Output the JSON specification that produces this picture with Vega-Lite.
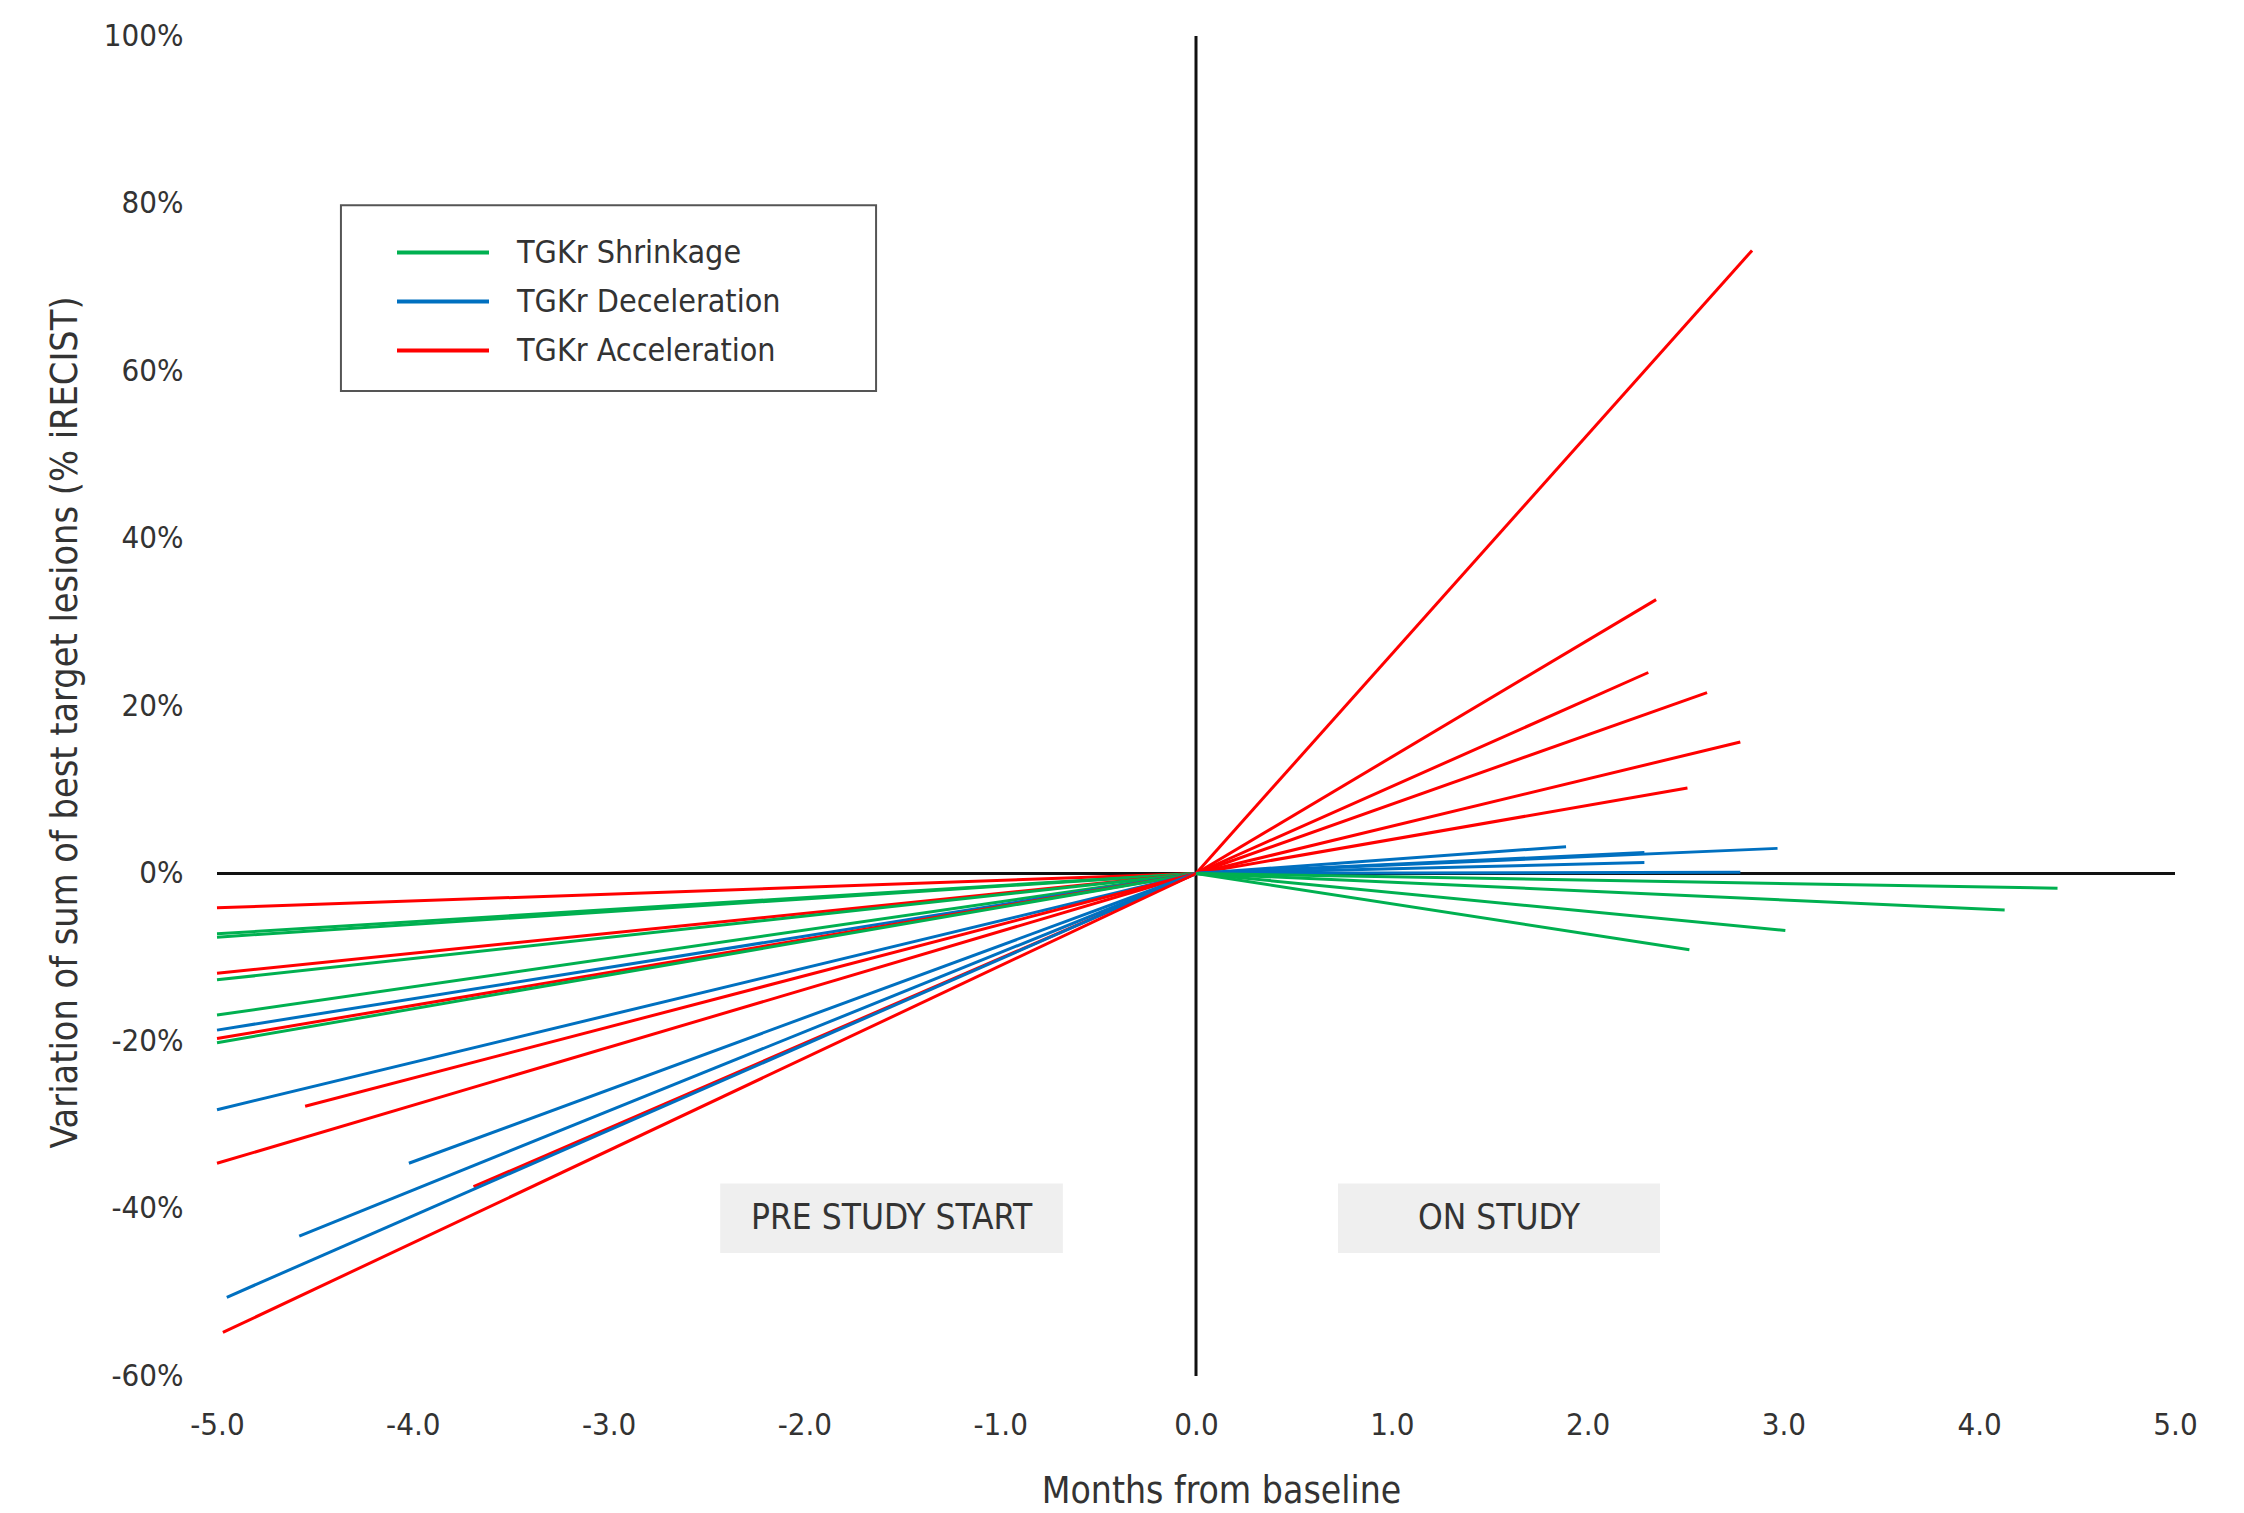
{
  "$schema": "https://vega.github.io/schema/vega-lite/v6.json",
  "width": 1958,
  "height": 1340,
  "autosize": {"type": "none"},
  "padding": {"left": 217, "top": 36, "right": 69, "bottom": 137},
  "background": "white",
  "config": {
    "view": {"stroke": null},
    "font": "'DejaVu Sans Condensed', Roboto, sans-serif",
    "axis": {"domain": false, "ticks": false, "tickSize": 0, "grid": false, "labelColor": "#333", "titleColor": "#333", "labelFont": "'DejaVu Sans Condensed', Roboto, sans-serif", "titleFont": "'DejaVu Sans Condensed', Roboto, sans-serif", "titleFontWeight": "normal"},
    "legend": {"labelFont": "'DejaVu Sans Condensed', Roboto, sans-serif"}
  },
  "datasets": {
    "lines": [
      {"id": "L1", "group": "TGKr Acceleration", "x": 0, "y": 0}, {"id": "L1", "group": "TGKr Acceleration", "x": -5, "y": -4.1},
      {"id": "L2", "group": "TGKr Shrinkage", "x": 0, "y": 0}, {"id": "L2", "group": "TGKr Shrinkage", "x": -5, "y": -7.2},
      {"id": "L3", "group": "TGKr Shrinkage", "x": 0, "y": 0}, {"id": "L3", "group": "TGKr Shrinkage", "x": -5, "y": -7.6},
      {"id": "L4", "group": "TGKr Acceleration", "x": 0, "y": 0}, {"id": "L4", "group": "TGKr Acceleration", "x": -5, "y": -11.9},
      {"id": "L5", "group": "TGKr Shrinkage", "x": 0, "y": 0}, {"id": "L5", "group": "TGKr Shrinkage", "x": -5, "y": -12.7},
      {"id": "L6", "group": "TGKr Shrinkage", "x": 0, "y": 0}, {"id": "L6", "group": "TGKr Shrinkage", "x": -5, "y": -16.9},
      {"id": "L7", "group": "TGKr Deceleration", "x": 0, "y": 0}, {"id": "L7", "group": "TGKr Deceleration", "x": -5, "y": -18.7},
      {"id": "L8", "group": "TGKr Acceleration", "x": 0, "y": 0}, {"id": "L8", "group": "TGKr Acceleration", "x": -5, "y": -19.7},
      {"id": "L9", "group": "TGKr Shrinkage", "x": 0, "y": 0}, {"id": "L9", "group": "TGKr Shrinkage", "x": -5, "y": -20.2},
      {"id": "L10", "group": "TGKr Deceleration", "x": 0, "y": 0}, {"id": "L10", "group": "TGKr Deceleration", "x": -5, "y": -28.2},
      {"id": "L11", "group": "TGKr Acceleration", "x": 0, "y": 0}, {"id": "L11", "group": "TGKr Acceleration", "x": -4.55, "y": -27.8},
      {"id": "L12", "group": "TGKr Acceleration", "x": 0, "y": 0}, {"id": "L12", "group": "TGKr Acceleration", "x": -5, "y": -34.6},
      {"id": "L13", "group": "TGKr Deceleration", "x": 0, "y": 0}, {"id": "L13", "group": "TGKr Deceleration", "x": -4.02, "y": -34.6},
      {"id": "L14", "group": "TGKr Acceleration", "x": 0, "y": 0}, {"id": "L14", "group": "TGKr Acceleration", "x": -3.69, "y": -37.4},
      {"id": "L15", "group": "TGKr Deceleration", "x": 0, "y": 0}, {"id": "L15", "group": "TGKr Deceleration", "x": -4.58, "y": -43.3},
      {"id": "L16", "group": "TGKr Deceleration", "x": 0, "y": 0}, {"id": "L16", "group": "TGKr Deceleration", "x": -4.95, "y": -50.6},
      {"id": "L17", "group": "TGKr Acceleration", "x": 0, "y": 0}, {"id": "L17", "group": "TGKr Acceleration", "x": -4.97, "y": -54.8},
      {"id": "R1", "group": "TGKr Acceleration", "x": 0, "y": 0}, {"id": "R1", "group": "TGKr Acceleration", "x": 2.84, "y": 74.4},
      {"id": "R2", "group": "TGKr Acceleration", "x": 0, "y": 0}, {"id": "R2", "group": "TGKr Acceleration", "x": 2.35, "y": 32.7},
      {"id": "R3", "group": "TGKr Acceleration", "x": 0, "y": 0}, {"id": "R3", "group": "TGKr Acceleration", "x": 2.31, "y": 24.0},
      {"id": "R4", "group": "TGKr Acceleration", "x": 0, "y": 0}, {"id": "R4", "group": "TGKr Acceleration", "x": 2.61, "y": 21.6},
      {"id": "R5", "group": "TGKr Acceleration", "x": 0, "y": 0}, {"id": "R5", "group": "TGKr Acceleration", "x": 2.78, "y": 15.7},
      {"id": "R6", "group": "TGKr Acceleration", "x": 0, "y": 0}, {"id": "R6", "group": "TGKr Acceleration", "x": 2.51, "y": 10.2},
      {"id": "B1", "group": "TGKr Deceleration", "x": 0, "y": 0}, {"id": "B1", "group": "TGKr Deceleration", "x": 1.89, "y": 3.2},
      {"id": "B2", "group": "TGKr Deceleration", "x": 0, "y": 0}, {"id": "B2", "group": "TGKr Deceleration", "x": 2.29, "y": 2.5},
      {"id": "B3", "group": "TGKr Deceleration", "x": 0, "y": 0}, {"id": "B3", "group": "TGKr Deceleration", "x": 2.97, "y": 3.0},
      {"id": "B4", "group": "TGKr Deceleration", "x": 0, "y": 0}, {"id": "B4", "group": "TGKr Deceleration", "x": 2.29, "y": 1.3},
      {"id": "B5", "group": "TGKr Deceleration", "x": 0, "y": 0}, {"id": "B5", "group": "TGKr Deceleration", "x": 2.78, "y": 0.15},
      {"id": "G1", "group": "TGKr Shrinkage", "x": 0, "y": 0}, {"id": "G1", "group": "TGKr Shrinkage", "x": 4.40, "y": -1.75},
      {"id": "G2", "group": "TGKr Shrinkage", "x": 0, "y": 0}, {"id": "G2", "group": "TGKr Shrinkage", "x": 4.13, "y": -4.35},
      {"id": "G3", "group": "TGKr Shrinkage", "x": 0, "y": 0}, {"id": "G3", "group": "TGKr Shrinkage", "x": 3.01, "y": -6.8},
      {"id": "G4", "group": "TGKr Shrinkage", "x": 0, "y": 0}, {"id": "G4", "group": "TGKr Shrinkage", "x": 2.52, "y": -9.1}
    ],
    "axes": [
      {"x": -5, "x2": 5, "y": 0, "y2": 0},
      {"x": 0, "x2": 0, "y": 100, "y2": -60}
    ],
    "boxes": [
      {"x": -2.43, "x2": -0.68, "y": -37.0, "y2": -45.3},
      {"x": 0.725, "x2": 2.37, "y": -37.0, "y2": -45.3}
    ],
    "boxlabels": [
      {"label": "PRE STUDY START", "x": -1.555, "y": -41.15},
      {"label": "ON STUDY", "x": 1.5475, "y": -41.15}
    ],
    "legendbox": [
      {"x": -4.367, "x2": -1.634, "y": 79.8, "y2": 57.6}
    ]
  },
  "encoding": {
    "x": {
      "field": "x", "type": "quantitative",
      "scale": {"domain": [-5, 5], "nice": false, "zero": false},
      "axis": {
        "values": [-5, -4, -3, -2, -1, 0, 1, 2, 3, 4, 5],
        "labelExpr": "replace(format(datum.value, '.1f'), '\u2212', '-')",
        "labelFontSize": 31, "labelPadding": 34, "labelFlush": false, "labelOverlap": false,
        "title": "Months from baseline", "titleFontSize": 37,
        "titleX": 1004, "titleY": 126, "titleBaseline": "alphabetic", "titleAlign": "center"
      }
    },
    "y": {
      "field": "y", "type": "quantitative",
      "scale": {"domain": [-60, 100], "nice": false, "zero": false},
      "axis": {
        "values": [-60, -40, -20, 0, 20, 40, 60, 80, 100],
        "labelExpr": "datum.value + '%'",
        "labelFontSize": 31, "labelPadding": 34, "labelFlush": false, "labelOverlap": false,
        "title": "Variation of sum of best target lesions (% iRECIST)", "titleFontSize": 37.5,
        "titleX": -141, "titleY": 686, "titleAngle": -90, "titleBaseline": "alphabetic", "titleAlign": "center"
      }
    }
  },
  "layer": [
    {
      "data": {"name": "legendbox"},
      "mark": {"type": "rect", "fill": "white", "stroke": "#555", "strokeWidth": 2},
      "encoding": {"x2": {"field": "x2"}, "y2": {"field": "y2"}}
    },
    {
      "data": {"name": "boxes"},
      "mark": {"type": "rect", "fill": "#efefef", "stroke": null},
      "encoding": {"x2": {"field": "x2"}, "y2": {"field": "y2"}}
    },
    {
      "data": {"name": "boxlabels"},
      "mark": {"type": "text", "font": "'DejaVu Sans Condensed', Roboto, sans-serif", "fontSize": 35, "color": "#333", "align": "center", "baseline": "middle"},
      "encoding": {"text": {"field": "label"}}
    },
    {
      "data": {"name": "axes"},
      "mark": {"type": "rule", "color": "#111", "strokeWidth": 3},
      "encoding": {"x2": {"field": "x2"}, "y2": {"field": "y2"}}
    },
    {
      "data": {"name": "lines"},
      "mark": {"type": "line", "strokeWidth": 3},
      "encoding": {
        "detail": {"field": "id"},
        "color": {
          "field": "group", "type": "nominal",
          "scale": {"domain": ["TGKr Shrinkage", "TGKr Deceleration", "TGKr Acceleration"], "range": ["#00b050", "#0070c0", "#ff0000"]},
          "legend": {
            "orient": "none", "legendX": 124, "legendY": 164, "title": null,
            "symbolType": "stroke", "symbolSize": 8464, "symbolStrokeWidth": 4,
            "labelFontSize": 32, "labelColor": "#333", "labelLimit": 1000,
            "clipHeight": 49, "rowPadding": 0, "padding": 28, "symbolOffset": 26, "labelOffset": 26
          }
        }
      }
    }
  ]
}
